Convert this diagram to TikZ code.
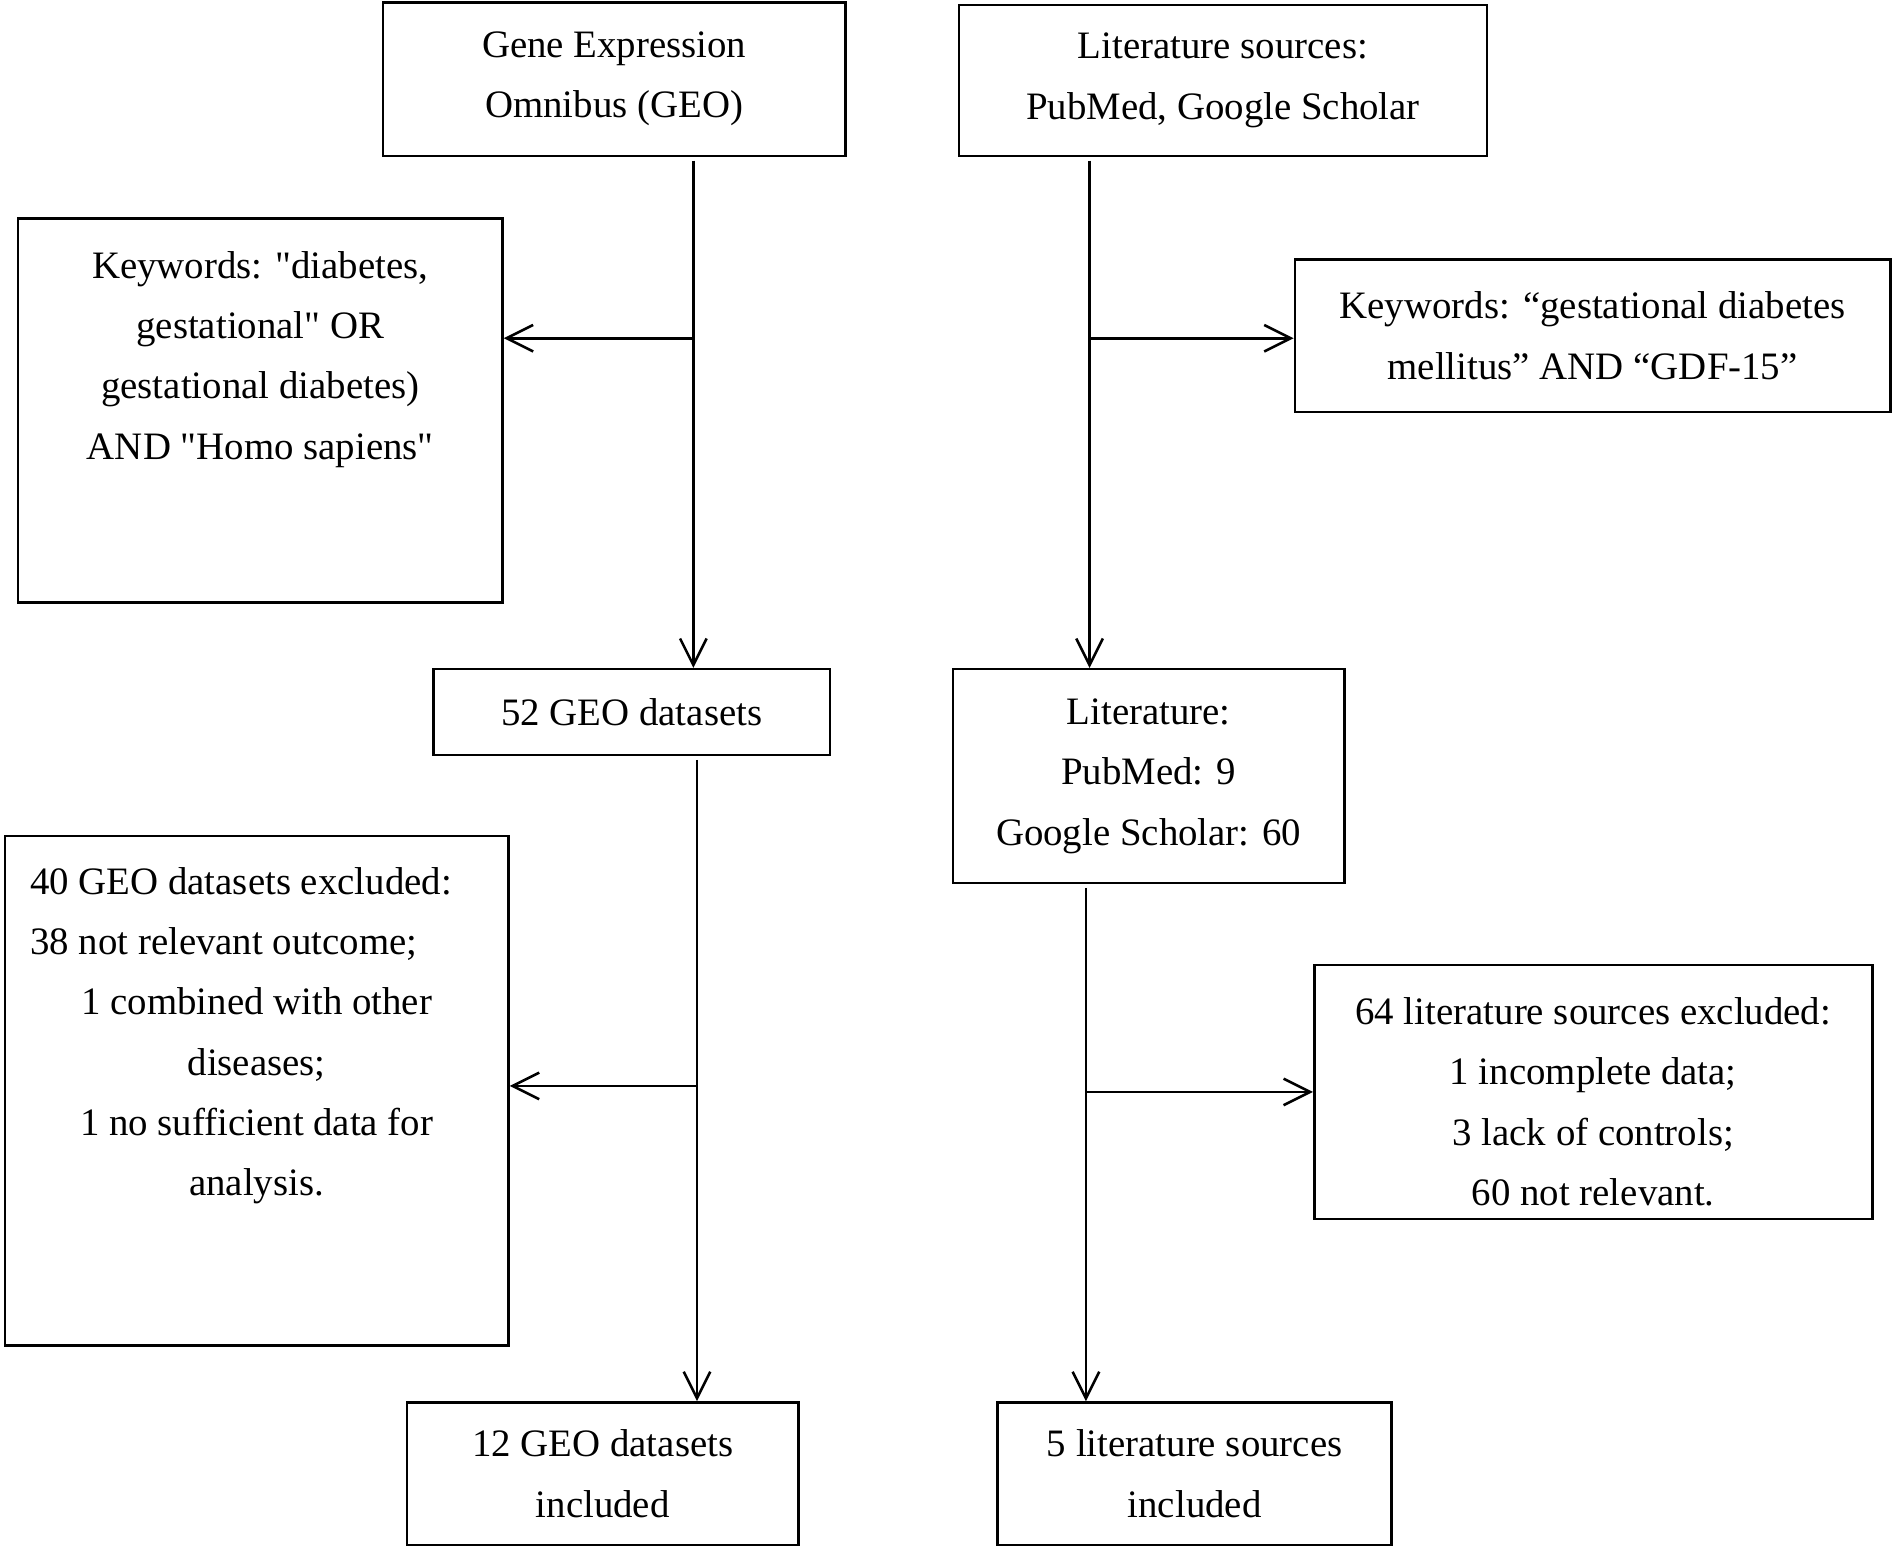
\documentclass[tikz,border=0pt]{standalone}
\usepackage{fontspec}
\setmainfont{Liberation Serif}
\usetikzlibrary{arrows.meta}

\begin{document}
\begin{tikzpicture}[
  box/.style={draw=black, line width=0.6pt, inner sep=0pt, align=center},
  arr/.style={line width=0.6pt, -{Straight Barb[length=2.2mm, width=2.2mm, line width=0.6pt]}}
]
\useasboundingbox (0,0) rectangle (15.68,-12.81);

\fontsize{9.15}{14.2}\selectfont

% sources
\node [box, minimum width=3.83cm, minimum height=1.27cm] (geo) at (5.085,-0.655) {Gene Expression\\Omnibus (GEO)};
\node [box, minimum width=4.37cm, minimum height=1.25cm] (lit) at (10.125,-0.665) {Literature sources:\\PubMed, Google Scholar};

% search keywords
\node [box] (kwgeo) at (2.155,-3.40) {\parbox[c][3.18cm][t]{4.01cm}{\vspace*{0.27cm}\centering
Keywords: \textquotedbl diabetes,\\gestational\textquotedbl{} OR\\gestational diabetes)\\AND \textquotedbl Homo sapiens\textquotedbl}};
\node [box, minimum width=4.93cm, minimum height=1.26cm] (kwlit) at (13.185,-2.78) {Keywords: “gestational diabetes\\mellitus” AND “GDF-15”};

% records found
\node [box, minimum width=3.28cm, minimum height=0.71cm] (geofound) at (5.23,-5.895) {52 GEO datasets};
\node [box, minimum width=3.24cm, minimum height=1.77cm] (litfound) at (9.51,-6.425) {Literature:\\PubMed: 9\\Google Scholar: 60};

% exclusions
\node [box] (geoex) at (2.125,-9.03) {\parbox[c][4.22cm][t]{4.17cm}{\vspace*{0.26cm}\centering
\makebox[3.75cm][l]{40 GEO datasets excluded:}\\\makebox[3.75cm][l]{38 not relevant outcome;}\\1 combined with other\\diseases;\\1 no sufficient data for\\analysis.}};
\node [box] (litex) at (13.19,-9.04) {\parbox[c][2.10cm][t]{4.62cm}{\vspace*{0.27cm}\centering
64 literature sources excluded:\\1 incomplete data;\\3 lack of controls;\\60 not relevant.}};

% included
\node [box, minimum width=3.24cm, minimum height=1.18cm] (geoin) at (4.99,-12.20) {12 GEO datasets\\included};
\node [box, minimum width=3.26cm, minimum height=1.18cm] (litin) at (9.89,-12.20) {5 literature sources\\included};

% connectors
\coordinate (jgeo) at (5.74,-2.80);
\coordinate (jlit) at (9.02,-2.80);
\coordinate (jgeoex) at (5.77,-8.99);
\coordinate (jlitex) at (8.99,-9.04);

\draw [arr] ([yshift=-0.03cm]geo.south -| jgeo) -- (geofound.north -| jgeo);
\draw [arr] (jgeo) -- (jgeo -| kwgeo.east);
\draw [arr] ([yshift=-0.03cm]lit.south -| jlit) -- (litfound.north -| jlit);
\draw [arr] (jlit) -- (jlit -| kwlit.west);
\draw [arr] ([yshift=-0.03cm]geofound.south -| jgeoex) -- (geoin.north -| jgeoex);
\draw [arr] (jgeoex) -- (jgeoex -| geoex.east);
\draw [arr] ([yshift=-0.03cm]litfound.south -| jlitex) -- (litin.north -| jlitex);
\draw [arr] (jlitex) -- (jlitex -| litex.west);

\end{tikzpicture}
\end{document}
